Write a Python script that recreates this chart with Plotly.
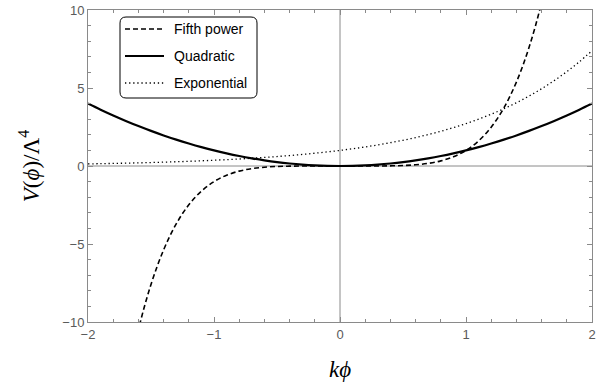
import plotly.graph_objects as go

# sample points k*phi on [-2, 2]
k_phi = [-2.0, -1.9, -1.8, -1.7, -1.6, -1.5, -1.4, -1.3, -1.2, -1.1, -1.0,
         -0.9, -0.8, -0.7, -0.6, -0.5, -0.4, -0.3, -0.2, -0.1, 0.0,
         0.1, 0.2, 0.3, 0.4, 0.5, 0.6, 0.7, 0.8, 0.9, 1.0,
         1.1, 1.2, 1.3, 1.4, 1.5, 1.6, 1.7, 1.8, 1.9, 2.0]

fifth_power = [-32.0, -24.761, -18.896, -14.199, -10.486, -7.594, -5.378, -3.713,
               -2.488, -1.611, -1.0, -0.590, -0.328, -0.168, -0.078, -0.031,
               -0.010, -0.002, -0.0003, 0.0, 0.0,
               0.0, 0.0003, 0.002, 0.010, 0.031, 0.078, 0.168, 0.328, 0.590, 1.0,
               1.611, 2.488, 3.713, 5.378, 7.594, 10.486, 14.199, 18.896, 24.761, 32.0]

quadratic = [4.00, 3.61, 3.24, 2.89, 2.56, 2.25, 1.96, 1.69, 1.44, 1.21, 1.00,
             0.81, 0.64, 0.49, 0.36, 0.25, 0.16, 0.09, 0.04, 0.01, 0.00,
             0.01, 0.04, 0.09, 0.16, 0.25, 0.36, 0.49, 0.64, 0.81, 1.00,
             1.21, 1.44, 1.69, 1.96, 2.25, 2.56, 2.89, 3.24, 3.61, 4.00]

exponential = [0.135, 0.150, 0.165, 0.183, 0.202, 0.223, 0.247, 0.273, 0.301, 0.333, 0.368,
               0.407, 0.449, 0.497, 0.549, 0.607, 0.670, 0.741, 0.819, 0.905, 1.000,
               1.105, 1.221, 1.350, 1.492, 1.649, 1.822, 2.014, 2.226, 2.460, 2.718,
               3.004, 3.320, 3.669, 4.055, 4.482, 4.953, 5.474, 6.050, 6.686, 7.389]

x_ticks = [-2, -1, 0, 1, 2]
y_ticks = [-10, -5, 0, 5, 10]
series_names = ["Fifth power", "Quadratic", "Exponential"]

axis_grey = "#8a8a8a"
tick_font = dict(family="Liberation Sans, Arial, sans-serif", size=13, color="#5a5a5a")
styles = [dict(color="black", width=1.6, dash="5px,3px"),
          dict(color="black", width=2.2, dash="solid"),
          dict(color="black", width=1.3, dash="1.3px,2.8px")]

fig = go.Figure()
for name, ys, st in zip(series_names, [fifth_power, quadratic, exponential], styles):
    fig.add_trace(go.Scatter(x=k_phi, y=ys, mode="lines", name=name, showlegend=False,
                             line=dict(shape="spline", **st)))

# zero lines through the origin
fig.add_shape(type="line", xref="x", yref="y", x0=-2, x1=2, y0=0, y1=0,
              line=dict(color=axis_grey, width=1), layer="below")
fig.add_shape(type="line", xref="x", yref="y", x0=0, x1=0, y0=-10, y1=10,
              line=dict(color=axis_grey, width=1), layer="below")

# page / plot-area geometry in pixels
W, H = 613, 391
ml, mr, mt, mb = 88, 21, 10, 69
pw, ph = W - ml - mr, H - mt - mb


def px(x):
    return (x - ml) / pw


def py(y):
    return 1 - (y - mt) / ph


# rounded legend frame
lx0, lx1, ly0, ly1, r = 120, 257, 17, 98, 6
rx, ry = r / pw, r / ph
path = (f"M {px(lx0)+rx},{py(ly0)} L {px(lx1)-rx},{py(ly0)} "
        f"Q {px(lx1)},{py(ly0)} {px(lx1)},{py(ly0)-ry} "
        f"L {px(lx1)},{py(ly1)+ry} Q {px(lx1)},{py(ly1)} {px(lx1)-rx},{py(ly1)} "
        f"L {px(lx0)+rx},{py(ly1)} Q {px(lx0)},{py(ly1)} {px(lx0)},{py(ly1)+ry} "
        f"L {px(lx0)},{py(ly0)-ry} Q {px(lx0)},{py(ly0)} {px(lx0)+rx},{py(ly0)} Z")
fig.add_shape(type="path", xref="paper", yref="paper", path=path,
              fillcolor="white", line=dict(color="black", width=1), layer="above")

# legend entries: sample line + label
row_y = [29, 56, 83]
for name, st, yy in zip(series_names, styles, row_y):
    fig.add_shape(type="line", xref="paper", yref="paper",
                  x0=px(125), x1=px(164), y0=py(yy), y1=py(yy),
                  line=st, layer="above")
    fig.add_annotation(x=px(172), y=py(yy), xref="paper", yref="paper",
                       text=name, showarrow=False, xanchor="left", yanchor="middle",
                       font=dict(family="Liberation Sans, Arial, sans-serif", size=14, color="black"))

axis_common = dict(showline=True, linecolor=axis_grey, linewidth=1, mirror="allticks",
                   ticks="inside", tickcolor=axis_grey, ticklen=5, showgrid=False,
                   zeroline=False, tickfont=tick_font, automargin=False,
                   minor=dict(ticks="inside", ticklen=3, tickcolor=axis_grey))

fig.update_xaxes(range=[-2, 2], tickvals=x_ticks,
                 ticktext=[str(v).replace("-", "\u2212") for v in x_ticks],
                 minor_dtick=0.2, **axis_common,
                 title=dict(text="<i>k\u03d5</i>",
                            font=dict(family="Liberation Serif, serif", size=23, color="black"),
                            standoff=20))
fig.update_yaxes(range=[-10, 10], tickvals=y_ticks,
                 ticktext=[str(v).replace("-", "\u2212") for v in y_ticks],
                 minor_dtick=1, **axis_common,
                 title=dict(text="<i>V</i>(<i>\u03d5</i>)/\u039b<sup>4</sup>",
                            font=dict(family="Liberation Serif, serif", size=23, color="black"),
                            standoff=16))

fig.update_layout(
    width=W, height=H,
    margin=dict(l=ml, r=mr, t=mt, b=mb, autoexpand=False),
    plot_bgcolor="white", paper_bgcolor="white",
    showlegend=False,
)

fig.write_html("out.html")
